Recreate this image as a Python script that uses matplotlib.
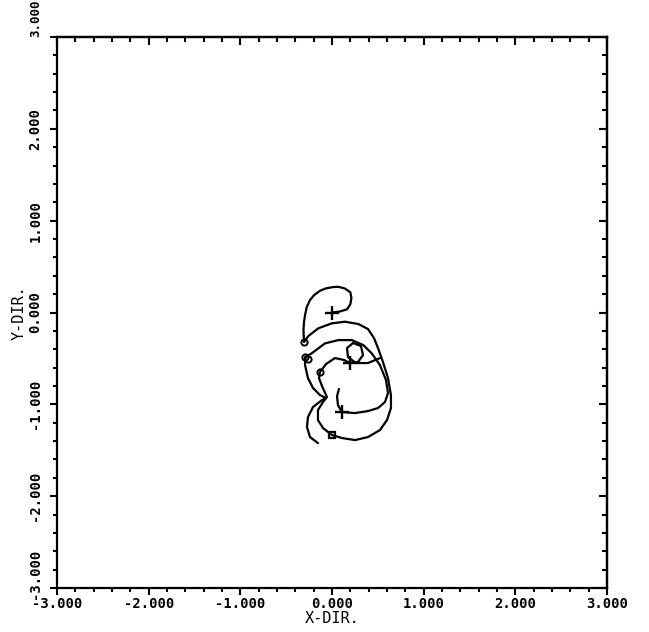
import matplotlib
matplotlib.use("Agg")
import matplotlib.pyplot as plt
from matplotlib.ticker import MultipleLocator, NullFormatter
from matplotlib.transforms import ScaledTranslation

# ---- data ----
track_a_x = [0.000, 0.087, 0.164, 0.200, 0.212, 0.200, 0.142, 0.070, 0.011, -0.070, -0.131, -0.195, -0.240,
             -0.275, -0.294, -0.306, -0.311, -0.305,
             -0.258, -0.149, -0.003, 0.142, 0.287, 0.393, 0.458, 0.502, 0.556, 0.611, 0.643, 0.643,
             0.600, 0.523, 0.393, 0.251, 0.109, 0.000, -0.098, -0.153, -0.153, -0.098, -0.055,
             -0.109, -0.142, -0.131, -0.065, 0.033, 0.131, 0.196, 0.284, 0.338, 0.316, 0.229,
             0.164, 0.174, 0.262, 0.393, 0.523]
track_a_y = [0.000, 0.011, 0.035, 0.090, 0.160, 0.220, 0.261, 0.280, 0.277, 0.262, 0.237, 0.190, 0.136,
             0.060, -0.027, -0.110, -0.191, -0.321,
             -0.256, -0.172, -0.118, -0.100, -0.125, -0.180, -0.278, -0.387, -0.539, -0.714, -0.899, -1.040,
             -1.171, -1.280, -1.356, -1.389, -1.367, -1.334, -1.258, -1.171, -1.062, -0.975, -0.920,
             -0.801, -0.714, -0.648, -0.561, -0.496, -0.517, -0.550, -0.539, -0.463, -0.365, -0.332,
             -0.387, -0.485, -0.550, -0.550, -0.496]

track_b_x = [-0.153, -0.240, -0.273, -0.262, -0.207, -0.109, -0.065, -0.131, -0.207, -0.262, -0.294,
             -0.294, -0.221, -0.076, 0.069, 0.215, 0.341, 0.433, 0.523, 0.589, 0.611, 0.578, 0.502,
             0.393, 0.251, 0.109, 0.065, 0.055, 0.076]
track_b_y = [-1.422, -1.356, -1.247, -1.138, -1.029, -0.953, -0.932, -0.899, -0.822, -0.714, -0.572,
             -0.485, -0.444, -0.336, -0.300, -0.300, -0.354, -0.444, -0.572, -0.735, -0.877, -0.975, -1.040,
             -1.073, -1.095, -1.084, -1.008, -0.910, -0.833]

plus_x = [0.000, 0.196, 0.109]
plus_y = [0.000, -0.550, -1.084]
circle_x = [-0.305, -0.294, -0.265, -0.131]
circle_y = [-0.321, -0.485, -0.510, -0.648]
square_x = [0.000]
square_y = [-1.334]

tick_vals = [-3, -2, -1, 0, 1, 2, 3]
tick_labels = ["-3.000", "-2.000", "-1.000", "0.000", "1.000", "2.000", "3.000"]

# ---- figure ----
fig = plt.figure(figsize=(6.49, 6.32), dpi=100)
ax = fig.add_axes([0.0878, 0.0696, 0.8475, 0.8718])
ax.set_xlim(-3, 3)
ax.set_ylim(-3, 3)

lw = 1.6
ax.plot(track_a_x, track_a_y, color="black", lw=lw, solid_capstyle="round", solid_joinstyle="round")
ax.plot(track_b_x, track_b_y, color="black", lw=lw, solid_capstyle="round", solid_joinstyle="round")
ax.plot(plus_x, plus_y, ls="none", marker="+", ms=10, mew=1.7, color="black")
ax.plot(circle_x, circle_y, ls="none", marker="o", ms=4.5, mew=1.4, mfc="none", color="black")
ax.plot(square_x, square_y, ls="none", marker="s", ms=4.5, mew=1.6, mfc="none", color="black")

for s in ax.spines.values():
    s.set_linewidth(1.6)

font = dict(family="DejaVu Sans Mono", weight="bold", size=10)

# bottom / left: ticks pointing outward (down / left), with labels
ax.set_xticks(tick_vals)
ax.set_yticks(tick_vals)
ax.xaxis.set_minor_locator(MultipleLocator(0.2))
ax.yaxis.set_minor_locator(MultipleLocator(0.2))
ax.set_xticklabels(tick_labels, fontdict=font)
ax.set_yticklabels(tick_labels, fontdict=font, rotation=90, va="center")
ax.tick_params(which="both", direction="out", width=1.5, top=False, right=False)
ax.tick_params(which="major", length=5)
ax.tick_params(which="minor", length=3)
ax.tick_params(axis="x", which="major", pad=1.5)
ax.tick_params(axis="y", which="major", pad=5.5)

ylabs = ax.get_yticklabels()
ylabs[-1].set_va("bottom")
ylabs[-1].set_fontsize(9)
ylabs[0].set_transform(ylabs[0].get_transform() + ScaledTranslation(0, 10 / 72, fig.dpi_scale_trans))

# top / right: ticks pointing inward (down / left), no labels
secx = ax.secondary_xaxis("top")
secx.set_xticks(tick_vals)
secx.xaxis.set_minor_locator(MultipleLocator(0.2))
secx.xaxis.set_major_formatter(NullFormatter())
secx.tick_params(which="both", direction="in", width=1.5)
secx.tick_params(which="major", length=6)
secx.tick_params(which="minor", length=3.5)
secx.spines["top"].set_linewidth(1.6)

secy = ax.secondary_yaxis("right")
secy.set_yticks(tick_vals)
secy.yaxis.set_minor_locator(MultipleLocator(0.2))
secy.yaxis.set_major_formatter(NullFormatter())
secy.tick_params(which="both", direction="in", width=1.5)
secy.tick_params(which="major", length=6)
secy.tick_params(which="minor", length=3.5)
secy.spines["right"].set_linewidth(1.6)

ax.set_xlabel("X-DIR.", fontsize=11, family="DejaVu Sans Mono", labelpad=0)
ax.set_ylabel("Y-DIR.", fontsize=11, family="DejaVu Sans Mono", labelpad=1)

fig.savefig("out.png", dpi=100)
